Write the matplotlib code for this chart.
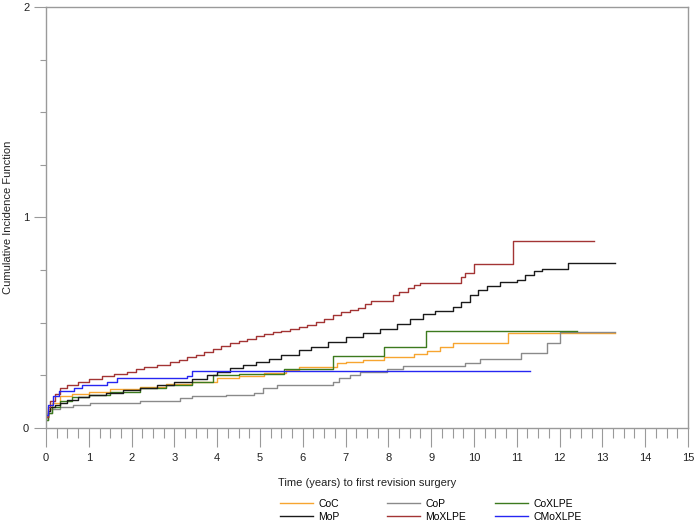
import matplotlib
matplotlib.use('Agg')
import matplotlib.pyplot as plt
from matplotlib.ticker import MultipleLocator

plt.rcParams['font.family'] = ['Liberation Sans', 'DejaVu Sans']

# ==============================================================================
# cumulative incidence per bearing group (time in years, CIF)

coc_t = [0, 0.05, 0.15, 0.33, 0.6, 1.0, 1.5, 2.2, 2.8, 3.4, 4.0, 4.5, 5.1, 5.6, 5.9,
         6.8, 7.0, 7.4, 7.9, 8.6, 8.9, 9.2, 9.5, 10.8, 13.3]
coc_v = [0.05, 0.09, 0.12, 0.15, 0.16, 0.172, 0.185, 0.196, 0.21, 0.22, 0.237, 0.245,
         0.26, 0.275, 0.29, 0.307, 0.315, 0.323, 0.339, 0.35, 0.367, 0.383, 0.405, 0.45, 0.45]

cop_t = [0, 0.05, 0.15, 0.33, 0.63, 1.03, 2.2, 3.13, 3.4, 4.2, 4.85, 5.08, 5.4, 6.7,
         6.85, 7.1, 7.34, 7.96, 8.35, 9.79, 10.14, 11.11, 11.7, 12.0, 13.3]
cop_v = [0.04, 0.07, 0.09, 0.10, 0.108, 0.12, 0.13, 0.141, 0.15, 0.155, 0.168, 0.188,
         0.204, 0.22, 0.236, 0.252, 0.268, 0.278, 0.294, 0.31, 0.326, 0.355, 0.402, 0.457, 0.457]

coxlpe_t = [0, 0.05, 0.15, 0.33, 0.6, 1.0, 1.5, 2.2, 2.8, 3.4, 3.9, 4.5, 5.55, 6.7,
            7.9, 8.88, 12.4]
coxlpe_v = [0.04, 0.07, 0.1, 0.13, 0.145, 0.157, 0.17, 0.19, 0.205, 0.22, 0.25, 0.255,
            0.279, 0.342, 0.385, 0.46, 0.46]

mop_t = [0, 0.05, 0.1, 0.2, 0.33, 0.5, 0.75, 1.0, 1.4, 1.8, 2.2, 2.6, 3.0, 3.4, 3.75,
         4.0, 4.3, 4.6, 4.9, 5.2, 5.5, 5.9, 6.2, 6.6, 7.0, 7.4, 7.8, 8.2, 8.5, 8.8, 9.1,
         9.5, 9.7, 9.9, 10.1, 10.3, 10.6, 11.0, 11.2, 11.4, 11.6, 12.2, 13.3]
mop_v = [0.05, 0.08, 0.10, 0.11, 0.12, 0.135, 0.145, 0.155, 0.165, 0.18, 0.19, 0.205,
         0.22, 0.235, 0.25, 0.265, 0.285, 0.3, 0.315, 0.33, 0.345, 0.37, 0.385, 0.41,
         0.43, 0.45, 0.47, 0.495, 0.52, 0.54, 0.555, 0.575, 0.6, 0.63, 0.655, 0.675,
         0.695, 0.705, 0.725, 0.745, 0.755, 0.785, 0.785]

moxlpe_t = [0, 0.05, 0.1, 0.2, 0.33, 0.5, 0.75, 1.0, 1.3, 1.6, 1.9, 2.1, 2.3, 2.6, 2.9,
            3.1, 3.3, 3.5, 3.7, 3.9, 4.1, 4.3, 4.5, 4.7, 4.9, 5.1, 5.3, 5.5, 5.7, 5.9,
            6.1, 6.3, 6.5, 6.7, 6.9, 7.1, 7.3, 7.45, 7.6, 8.1, 8.25, 8.45, 8.6, 8.75,
            9.7, 9.8, 10.0, 10.9, 12.8]
moxlpe_v = [0.05, 0.10, 0.13, 0.16, 0.19, 0.205, 0.22, 0.235, 0.245, 0.255, 0.265, 0.28,
            0.29, 0.30, 0.315, 0.325, 0.335, 0.345, 0.36, 0.375, 0.39, 0.405, 0.415,
            0.425, 0.435, 0.445, 0.455, 0.46, 0.47, 0.48, 0.49, 0.505, 0.52, 0.535,
            0.55, 0.56, 0.57, 0.59, 0.605, 0.63, 0.645, 0.665, 0.68, 0.69, 0.715,
            0.735, 0.78, 0.89, 0.89]

cmoxlpe_t = [0, 0.05, 0.17, 0.3, 0.65, 0.85, 1.42, 1.65, 3.29, 3.4, 11.3]
cmoxlpe_v = [0.06, 0.11, 0.15, 0.176, 0.188, 0.204, 0.22, 0.236, 0.247, 0.271, 0.271]

series = [
    ("CoC", coc_t, coc_v, "#F7A530"),
    ("CoP", cop_t, cop_v, "#8A8A8A"),
    ("CoXLPE", coxlpe_t, coxlpe_v, "#3C7A1E"),
    ("MoP", mop_t, mop_v, "#1A1A1A"),
    ("MoXLPE", moxlpe_t, moxlpe_v, "#A33434"),
    ("CMoXLPE", cmoxlpe_t, cmoxlpe_v, "#2626F2"),
]

# ==============================================================================

fig = plt.figure(figsize=(6.95, 5.21), dpi=100)
ax = fig.add_axes([0.0662, 0.1785, 0.9237, 0.8081])

lines = {}
for name, t, v, col in series:
    ln, = ax.plot(t, v, drawstyle='steps-post', color=col, lw=1.0, label=name)
    lines[name] = ln

ax.set_xlim(0, 15)
ax.set_ylim(0, 2)
ax.xaxis.set_major_locator(MultipleLocator(1))
ax.xaxis.set_minor_locator(MultipleLocator(0.25))
ax.yaxis.set_major_locator(MultipleLocator(1))
ax.yaxis.set_minor_locator(MultipleLocator(0.25))

gray = '#9A9A9A'
for sp in ax.spines.values():
    sp.set_color(gray)
    sp.set_linewidth(1.0)
# tick lengths in points (px * 0.72)
ax.tick_params(axis='x', which='major', length=13.7, width=0.8, color=gray,
               labelsize=8, pad=4.5, labelcolor='#222222')
ax.tick_params(axis='x', which='minor', length=7.2, width=0.8, color=gray)
ax.tick_params(axis='y', which='major', length=8.6, width=0.8, color=gray,
               labelsize=8, pad=3.5, labelcolor='#222222')
ax.tick_params(axis='y', which='minor', length=4.3, width=0.8, color=gray)

ax.set_xlabel("Time (years) to first revision surgery", fontsize=8, color='#222222')
ax.xaxis.set_label_coords(0.5, -0.118)
ax.set_ylabel("Cumulative Incidence Function", fontsize=8, color='#222222')
ax.yaxis.set_label_coords(-0.051, 0.5)

# legend laid out as three equal columns
cols = [(["CoC", "MoP"], 280), (["CoP", "MoXLPE"], 387), (["CoXLPE", "CMoXLPE"], 495)]
for names, px in cols:
    fig.legend([lines[n] for n in names], names, loc='upper left',
               bbox_to_anchor=(px / 695.0, 1 - 499 / 521.0), frameon=False,
               fontsize=7.5, handlelength=3.2, handletextpad=0.5, borderpad=0,
               labelspacing=0.25, borderaxespad=0)

fig.savefig("out.png", dpi=100)
